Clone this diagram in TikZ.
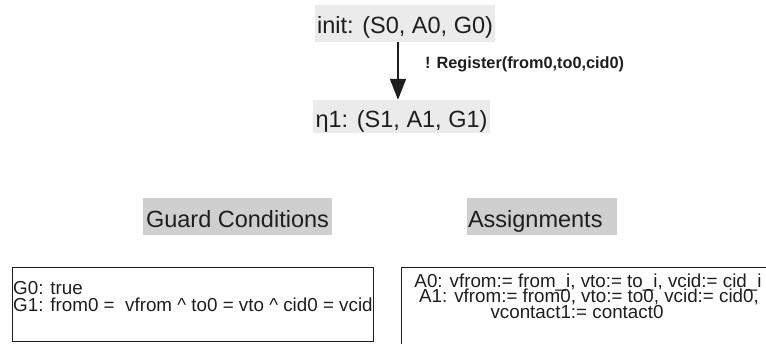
\documentclass[tikz,border=0pt]{standalone}
\usepackage{fontspec}
\setmainfont{Liberation Sans}
\usetikzlibrary{arrows.meta}
\definecolor{lightbox}{HTML}{EBEBEB}
\definecolor{midbox}{HTML}{CFCFCF}
\definecolor{ink}{HTML}{1E1E1E}
\begin{document}
\begin{tikzpicture}[x=1pt,y=-1pt,
  bigfont/.style={font=\fontsize{23.5}{26}\selectfont},
  smallfont/.style={font=\fontsize{18.8}{20}\selectfont},
  statebox/.style={bigfont, fill=lightbox, text=ink, inner ysep=0pt, inner xsep=2.5pt, anchor=base},
  headbox/.style={bigfont, fill=midbox, text=ink, inner ysep=0pt, text height=29pt, text depth=8pt, anchor=base},
  panel/.style={draw=ink, line width=1.4pt, anchor=north west, inner sep=0pt},
  linetext/.style={smallfont, text=ink, inner sep=0pt},
  arrowline/.style={draw=ink, line width=1.6pt, -{Triangle[width=16pt,length=21pt]}}
]
\useasboundingbox (0,0) rectangle (766,343);
\clip (0,0) rectangle (766,343);

% states
\node[statebox, text height=28pt, text depth=9pt] (init) at (405,33) {init: (S0, A0, G0)};
\node[statebox, text height=27pt, text depth=6pt] (eta) at (401.5,127) {η1: (S1, A1, G1)};
\coordinate (ax) at (398,0);
\draw[arrowline] (init.south -| ax) -- (eta.north -| ax);
\node[font=\bfseries\fontsize{16.3}{18}\selectfont, text=ink, anchor=base west, inner sep=0pt] (lbl) at (425,68) {! Register(from0,to0,cid0)};

% headings
\node[headbox, inner xsep=3pt] (guard) at (237.5,227) {Guard Conditions};
\node[headbox, inner xsep=1pt, text width=148pt, align=left] (assign) at (542,227) {Assignments};

% panels
\node[panel, minimum width=361pt, minimum height=74pt] (gbox) at (12,267) {};
\node[panel, minimum width=400pt, minimum height=100pt] (abox) at (401,267) {};

\node[linetext, anchor=base west] (g0) at (13,294) {G0: true};
\node[linetext, anchor=base west] (g1) at (13,311) {G1: from0 =~ vfrom \^{} to0 = vto \^{} cid0 = vcid};

\node[linetext, anchor=base] (a0) at (588,287) {A0: vfrom:= from\_i, vto:= to\_i, vcid:= cid\_i};
\node[linetext, anchor=base] (a1) at (589,302.5) {A1: vfrom:= from0, vto:= to0, vcid:= cid0,};
\node[linetext, anchor=base] (a2) at (577,318) {vcontact1:= contact0};
\end{tikzpicture}
\end{document}
